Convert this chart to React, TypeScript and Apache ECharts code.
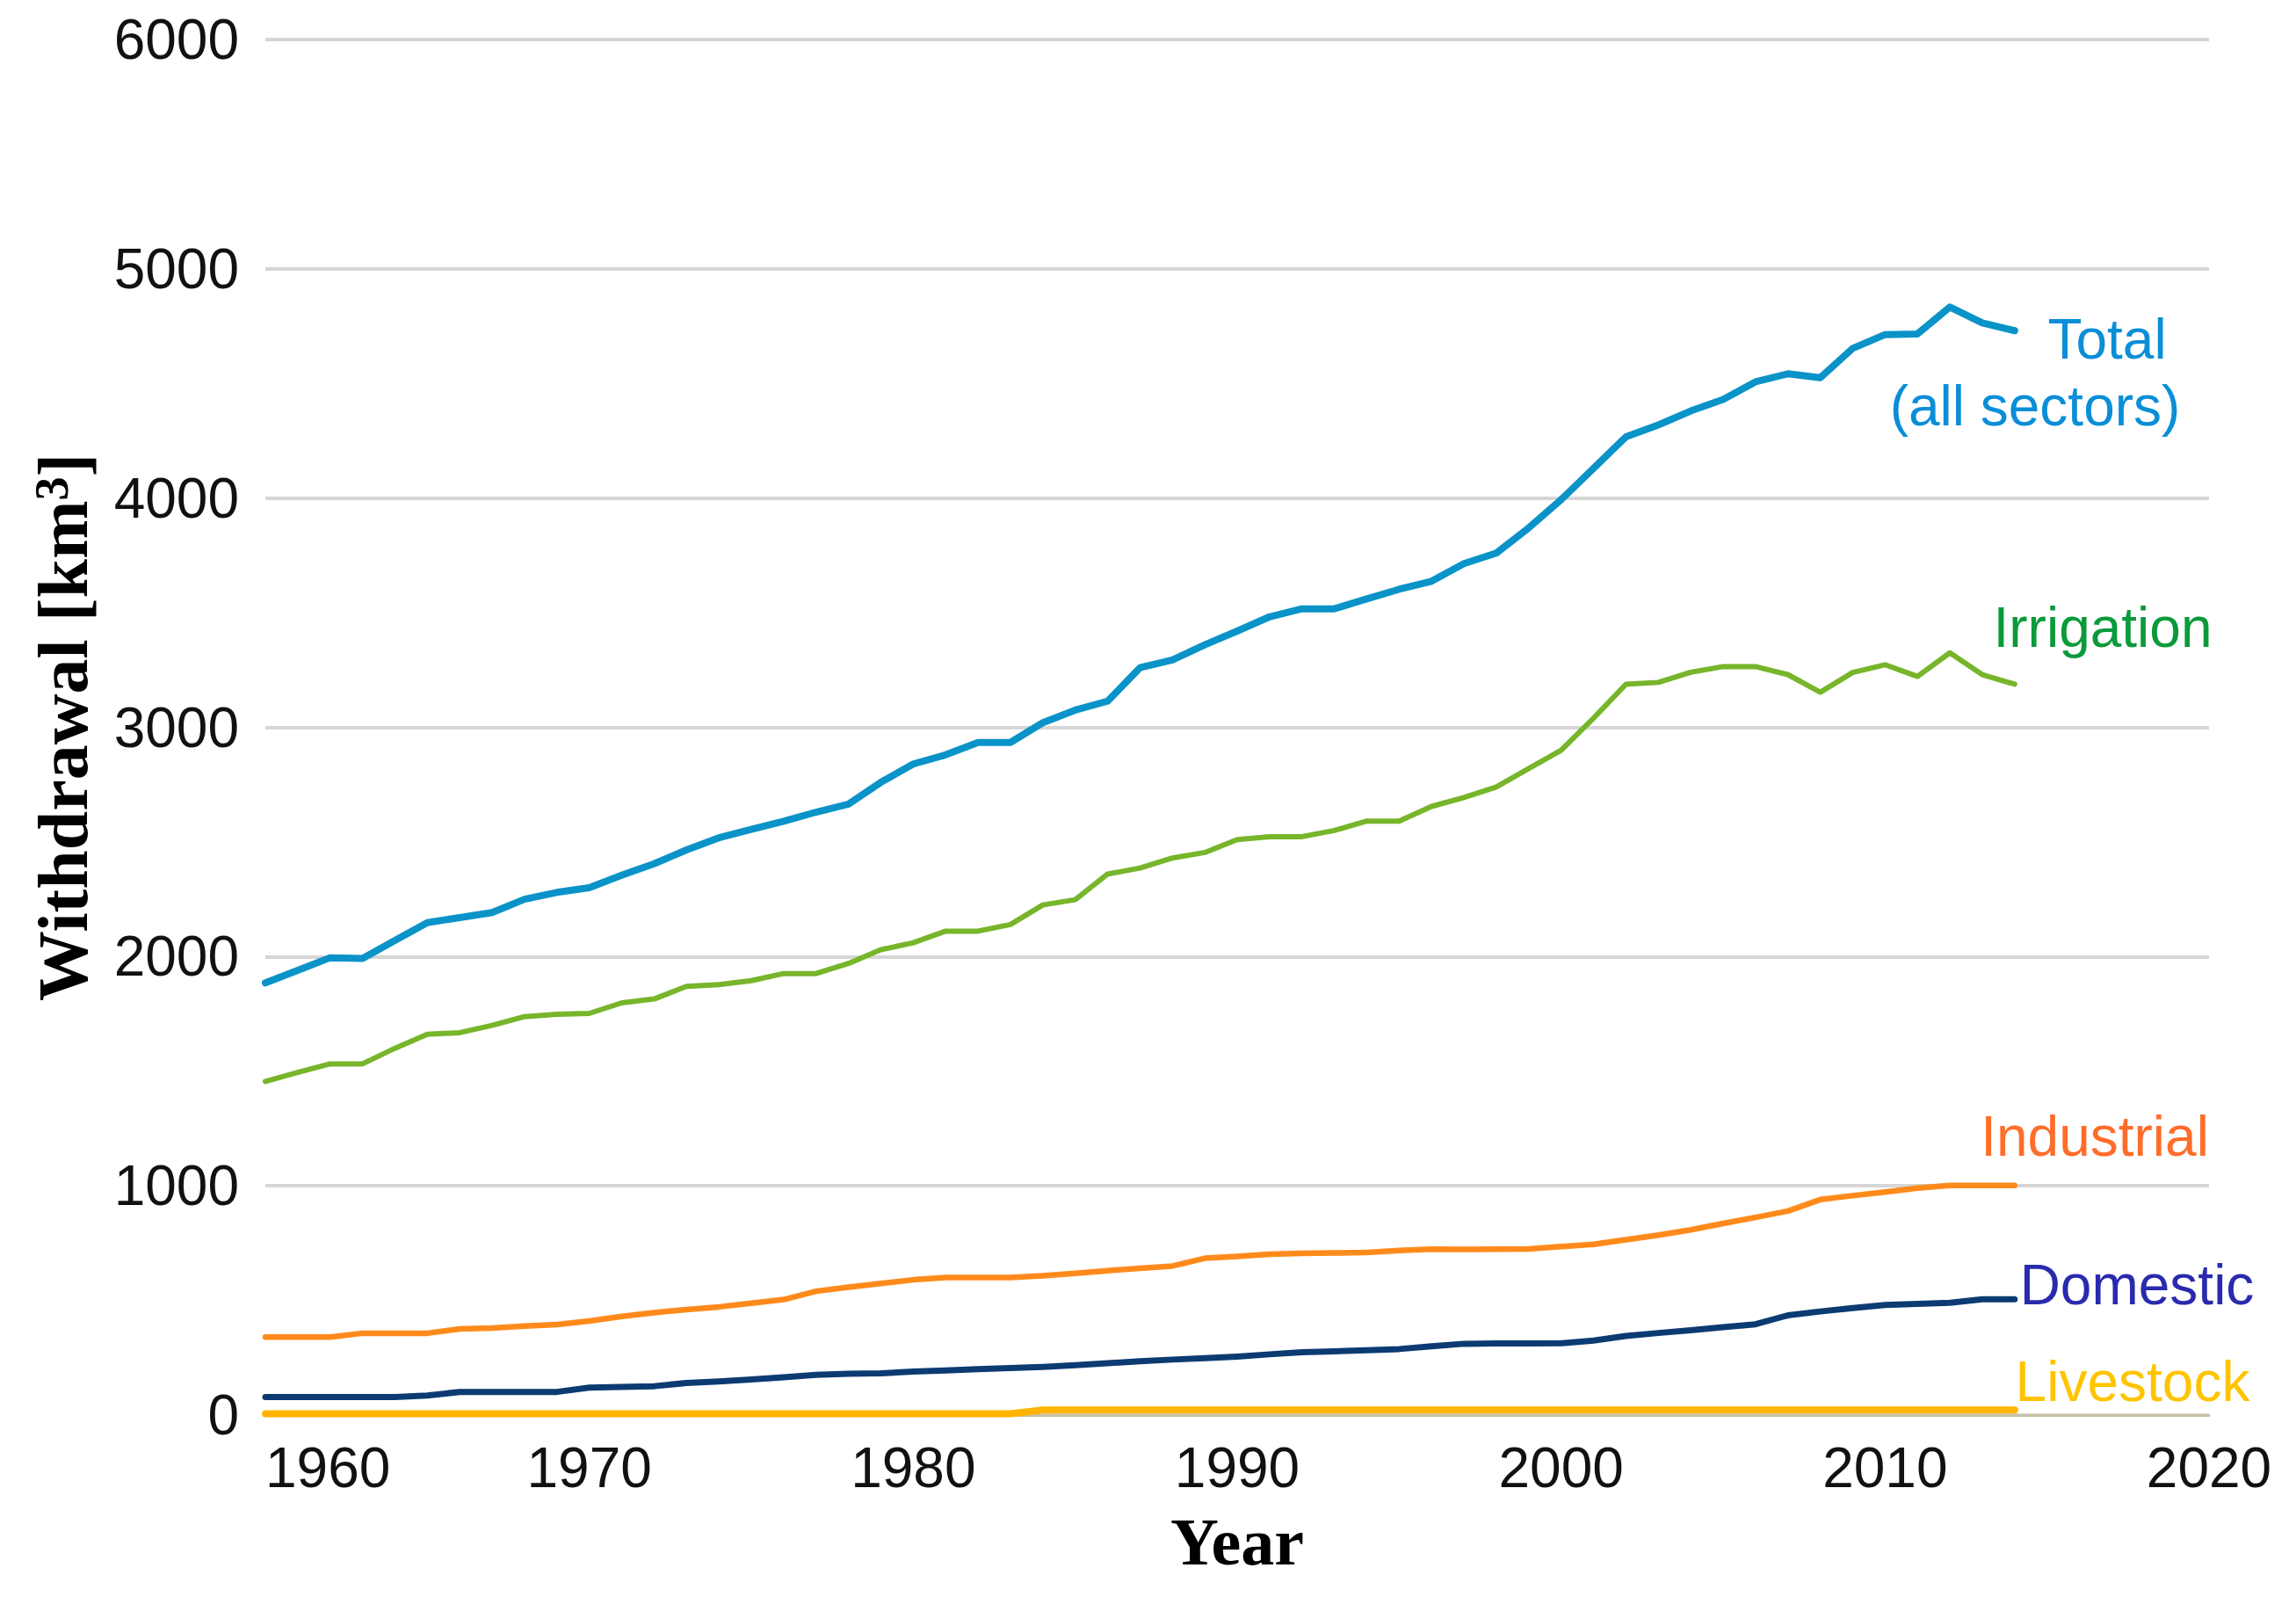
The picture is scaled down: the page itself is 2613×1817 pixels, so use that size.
import React, { useEffect, useRef } from "react";
import * as echarts from "echarts";

const years: number[] = [];
for (let y = 1960; y <= 2014; y++) years.push(y);

const totalValues = [
  1885, 1940, 1995, 1992, 2070, 2148, 2170, 2192, 2250, 2280,
  2300, 2355, 2405, 2465, 2518, 2555, 2590, 2630, 2665, 2760,
  2840, 2880, 2934, 2934, 3020, 3075, 3114, 3260, 3294, 3360,
  3420, 3482, 3517, 3517, 3560, 3602, 3637, 3714, 3760, 3870,
  3993, 4130, 4267, 4319, 4380, 4430, 4507, 4542, 4525, 4653,
  4713, 4716, 4833, 4764, 4730,
];

const irrigationValues = [
  1455, 1495, 1532, 1532, 1600, 1661, 1668, 1700, 1738, 1748,
  1752, 1798, 1815, 1870, 1878, 1895, 1926, 1926, 1970, 2030,
  2060, 2111, 2111, 2140, 2225, 2248, 2360, 2386, 2430, 2454,
  2510, 2523, 2523, 2550, 2591, 2591, 2655, 2694, 2740, 2820,
  2900, 3040, 3188, 3196, 3240, 3265, 3265, 3230, 3153, 3239,
  3273, 3222, 3325, 3230, 3188,
];

const industrialValues = [
  340, 340, 340, 357, 357, 357, 376, 380, 388, 395,
  410, 430, 447, 460, 472, 488, 504, 540, 558, 574,
  590, 600, 600, 600, 608, 618, 630, 640, 650, 684,
  692, 702, 705, 707, 709, 718, 724, 723, 724, 725,
  735, 745, 765, 785, 808, 836, 862, 890, 940, 957,
  973, 990, 1002, 1002, 1002,
];

const domesticValues = [
  79, 79, 79, 79, 79, 85, 101, 101, 101, 101,
  120, 123, 126, 140, 147, 155, 165, 175, 180, 182,
  190, 195, 200, 205, 210, 218, 226, 235, 242, 248,
  255, 265, 274, 278, 283, 288, 300, 311, 312, 312,
  313, 325, 345, 358, 370, 383, 396, 435, 452, 467,
  480, 485, 490, 505, 505,
];

const livestockValues = [
  6, 6, 6, 6, 6, 6, 6, 6, 6, 6,
  6, 6, 6, 6, 6, 6, 6, 6, 6, 6,
  6, 6, 6, 6, 22, 22, 22, 22, 22, 22,
  22, 22, 22, 22, 22, 22, 22, 22, 22, 22,
  22, 22, 22, 22, 22, 22, 22, 22, 22, 22,
  22, 22, 22, 22, 22,
];

const xTicks = { min: 1960, max: 2020, interval: 10 };
const yTicks = { min: 0, max: 6000, interval: 1000 };

const seriesNames = ["Total", "Irrigation", "Industrial", "Domestic", "Livestock"];

const W = 2613;
const H = 1817;
const SANS = "'Liberation Sans', Arial, sans-serif";
const SERIF = "'Liberation Serif', 'Times New Roman', serif";

function pairs(vals: number[]) {
  return years.map((y, i) => [y, vals[i]]);
}

export default function App() {
  const ref = useRef<HTMLDivElement>(null);
  useEffect(() => {
    document.body.style.margin = "0";
    if (!ref.current) return;
    const chart = echarts.init(ref.current, undefined, { renderer: "svg", width: W, height: H });

    const mkSeries = (name: string, vals: number[], color: string, width: number, z: number) => ({
      name,
      type: "line",
      data: pairs(vals),
      showSymbol: false,
      symbol: "none",
      z,
      lineStyle: { color, width, join: "round", cap: "round" },
    });

    const label = (text: string, x: number, y: number, fill: string) => ({
      type: "text",
      x,
      y,
      z: 100,
      style: {
        text,
        fill,
        fontSize: 64,
        fontFamily: SANS,
        textAlign: "center",
        textVerticalAlign: "middle",
      },
    });

    chart.setOption({
      animation: false,
      backgroundColor: "#ffffff",
      grid: { left: 302, right: 99, top: 45, bottom: 207, containLabel: false },
      xAxis: {
        type: "value",
        min: xTicks.min,
        max: xTicks.max,
        interval: xTicks.interval,
        name: "Year",
        nameLocation: "middle",
        nameGap: 106,
        nameTextStyle: { fontFamily: SERIF, fontWeight: "bold", fontSize: 76, color: "#000" },
        axisLine: { show: true, lineStyle: { color: "#c9c1a8", width: 3 } },
        axisTick: { show: false },
        splitLine: { show: false },
        axisLabel: {
          fontFamily: SANS,
          fontSize: 64,
          color: "#111111",
          margin: 28,
          alignMinLabel: "left",
          formatter: (v: number) => String(v),
        },
      },
      yAxis: {
        type: "value",
        min: yTicks.min,
        max: yTicks.max,
        interval: yTicks.interval,
        name: "{a|Withdrawal [km}{s|3}{a|]}",
        nameLocation: "middle",
        nameGap: 190,
        nameTextStyle: {
          rich: {
            a: { fontFamily: SERIF, fontWeight: "bold", fontSize: 80, color: "#000" },
            s: { fontFamily: SERIF, fontWeight: "bold", fontSize: 54, color: "#000", verticalAlign: "top" },
          },
        },
        axisLine: { show: false },
        axisTick: { show: false },
        splitLine: { show: true, lineStyle: { color: "#d6d6d6", width: 4 } },
        axisLabel: {
          fontFamily: SANS,
          fontSize: 64,
          color: "#111111",
          margin: 30,
          formatter: (v: number) => String(v),
        },
      },
      series: [
        mkSeries(seriesNames[4], livestockValues, "#ffb400", 8, 2),
        mkSeries(seriesNames[3], domesticValues, "#0c3b72", 7, 3),
        mkSeries(seriesNames[2], industrialValues, "#ff8a1c", 6.5, 4),
        mkSeries(seriesNames[1], irrigationValues, "#77b52a", 6, 5),
        mkSeries(seriesNames[0], totalValues, "#0a93c8", 8, 6),
      ],
      graphic: [
        label("Total", 2398, 386, "#0a8ed8"),
        label("(all sectors)", 2316, 462, "#0a8ed8"),
        label("Irrigation", 2393, 714, "#0a9a3a"),
        label("Industrial", 2384, 1293, "#ff6d2a"),
        label("Domestic", 2432, 1462, "#2a2aae"),
        label("Livestock", 2427, 1572, "#ffc400"),
      ],
    });
    return () => chart.dispose();
  }, []);
  return (
    <div
      ref={ref}
      style={{ position: "absolute", left: 0, top: 0, width: W, height: H, background: "#fff" }}
    />
  );
}
